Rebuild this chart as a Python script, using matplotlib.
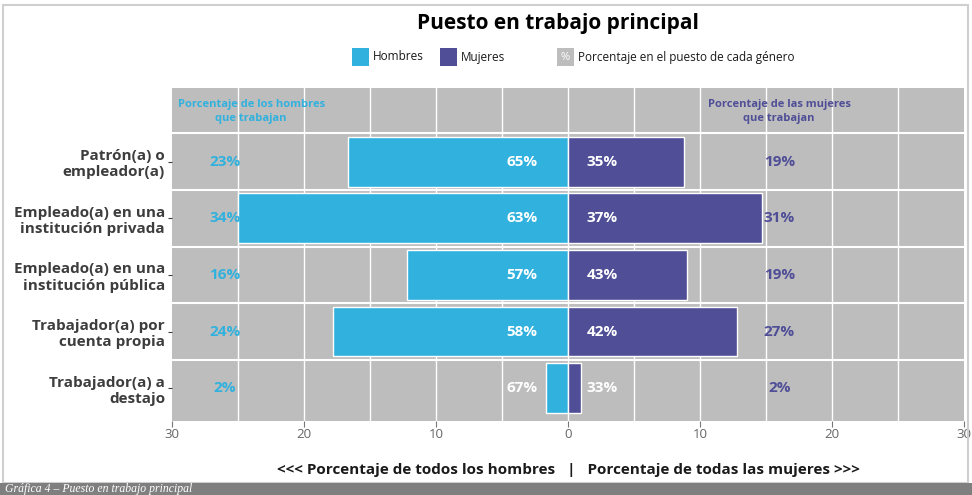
import matplotlib.pyplot as plt
from matplotlib.patches import Rectangle
from matplotlib.ticker import FuncFormatter

# datos
categorias = [
    'Patrón(a) o\nempleador(a)',
    'Empleado(a) en una\ninstitución privada',
    'Empleado(a) en una\ninstitución pública',
    'Trabajador(a) por\ncuenta propia',
    'Trabajador(a) a\ndestajo',
]
hombres_total = [16.7, 25.0, 12.2, 17.8, 1.7]
mujeres_total = [8.75, 14.7, 9.05, 12.8, 0.95]
pct_hombres_puesto = [65, 63, 57, 58, 67]
pct_mujeres_puesto = [35, 37, 43, 42, 33]
pct_hombres_trabajan = [23, 34, 16, 24, 2]
pct_mujeres_trabajan = [19, 31, 19, 27, 2]
xticks = [-30, -20, -10, 0, 10, 20, 30]

AZUL = '#31b1dd'
MORADO = '#4f4e97'
GRIS = '#bdbdbd'
TEXTO = '#3d3d3d'

plt.rcParams['font.family'] = ['Open Sans', 'DejaVu Sans']

fig = plt.figure(figsize=(9.72, 4.95), dpi=100)
W, H = 972, 495

# marco y franja inferior
fig.patches.append(Rectangle((3 / W, 1 - 483 / H), 965 / W, 478 / H,
                             transform=fig.transFigure, fill=False,
                             edgecolor='#cfcfcf', lw=1.5))
fig.patches.append(Rectangle((0, 0), 1, 12 / H, transform=fig.transFigure,
                             facecolor='#7f7f7f', edgecolor='none'))
fig.text(5 / W, 6 / H, 'Gráfica 4 – Puesto en trabajo principal',
         family='Liberation Serif', style='italic', color='white',
         fontsize=8.5, va='center', ha='left')

ax = fig.add_axes([172 / W, 1 - 421 / H, 792 / W, 333 / H])
ax.set_facecolor(GRIS)
for s in ax.spines.values():
    s.set_visible(False)

ypos = list(range(len(categorias)))
ax.set_xlim(-30, 30)
ax.set_ylim(4.58, -1.3)

for x in range(-25, 30, 5):
    ax.axvline(x, color='white', lw=1.0, zorder=1)
for y in [-0.5, 0.5, 1.5, 2.5, 3.5]:
    ax.axhline(y, color='white', lw=1.5, zorder=1)

ax.barh(ypos, [-v for v in hombres_total], height=0.88, color=AZUL,
        edgecolor='white', lw=1, zorder=2)
ax.barh(ypos, mujeres_total, height=0.88, color=MORADO,
        edgecolor='white', lw=1, zorder=2)

for i in ypos:
    ax.text(-3.5, i, f'{pct_hombres_puesto[i]}%', color='white',
            fontsize=11, fontweight='bold', ha='center', va='center', zorder=3)
    ax.text(2.6, i, f'{pct_mujeres_puesto[i]}%', color='white',
            fontsize=11, fontweight='bold', ha='center', va='center', zorder=3)
    ax.text(-26, i, f'{pct_hombres_trabajan[i]}%', color=AZUL,
            fontsize=11, fontweight='bold', ha='center', va='center', zorder=3)
    ax.text(16, i, f'{pct_mujeres_trabajan[i]}%', color=MORADO,
            fontsize=11, fontweight='bold', ha='center', va='center', zorder=3)

ax.text(-24, -0.88, 'Porcentaje de los hombres\nque trabajan', color=AZUL,
        fontsize=8, fontweight='bold', ha='center', va='center',
        linespacing=1.35, zorder=3)
ax.text(16, -0.88, 'Porcentaje de las mujeres\nque trabajan', color=MORADO,
        fontsize=8, fontweight='bold', ha='center', va='center',
        linespacing=1.35, zorder=3)

ax.set_yticks(ypos)
ax.set_yticklabels(categorias, fontsize=11, fontweight='bold', color=TEXTO,
                   linespacing=1.2)
ax.tick_params(axis='y', length=3, color=TEXTO, pad=2)
ax.set_xticks(xticks)
ax.xaxis.set_major_formatter(FuncFormatter(lambda v, p: f'{abs(int(v))}'))
ax.tick_params(axis='x', length=4, color='#777777', labelcolor='#666666',
               labelsize=9.5, pad=1)

ax.set_xlabel('<<< Porcentaje de todos los hombres   |   Porcentaje de todas las mujeres >>>',
              fontsize=11, fontweight='bold', color='#1a1a1a', labelpad=16)

# título y leyenda
fig.text(558 / W, 1 - 23 / H, 'Puesto en trabajo principal', fontsize=15,
         fontweight='bold', color='black', ha='center', va='center')
ly = 1 - 57 / H
legend_items = [
    (352, AZUL, '', 'Hombres'),
    (440, MORADO, '', 'Mujeres'),
    (557, GRIS, '%', 'Porcentaje en el puesto de cada género'),
]
for x0, c, inner, label in legend_items:
    fig.patches.append(Rectangle((x0 / W, ly - 9 / H), 17 / W, 18 / H,
                                 transform=fig.transFigure, facecolor=c,
                                 edgecolor='none'))
    if inner:
        fig.text((x0 + 8.5) / W, ly, inner, color='white', fontsize=8,
                 ha='center', va='center')
    fig.text((x0 + 21) / W, ly, label, fontsize=8.5, color='#1a1a1a',
             ha='left', va='center')

fig.savefig('out.png', dpi=100)
